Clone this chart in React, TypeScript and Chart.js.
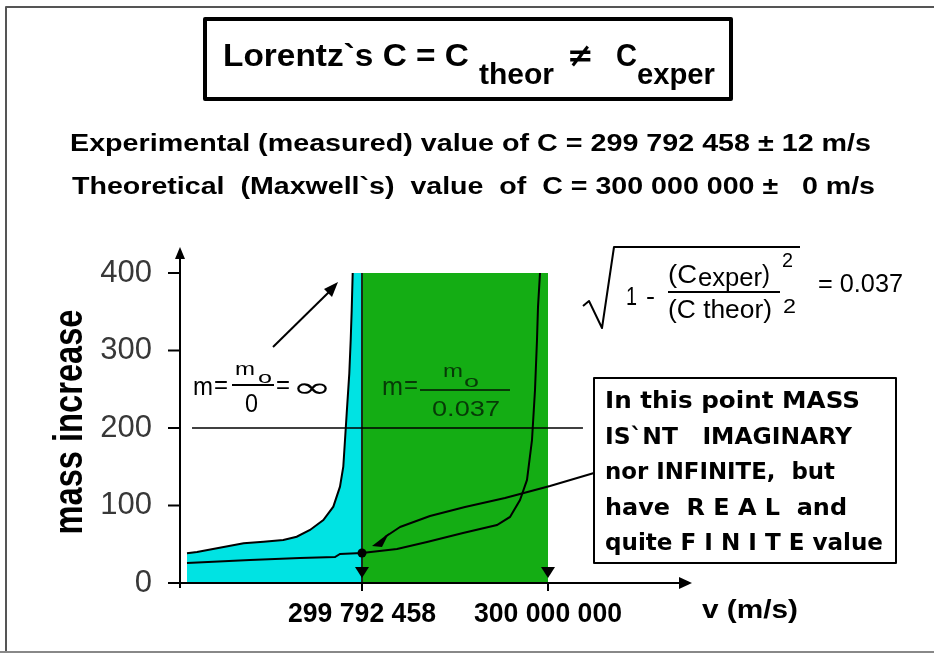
import React, { useEffect, useRef } from 'react';
import { Chart, registerables } from 'chart.js';

Chart.register(...registerables);

// ---------- data ----------
const C_EXPER = 299792458;
const C_THEOR = 300000000;

const xTickValues = [C_EXPER, C_THEOR];
const xTickLabels = ['299 792 458', '300 000 000'];
const yTickValues = [0, 100, 200, 300, 400];
const yTickLabels = ['0', '100', '200', '300', '400'];

// curve m = m0 / 0 (goes to infinity before C_exper)
const upperX = [299597200, 299608350, 299660350, 299682670, 299704630, 299719580, 299734420, 299749300, 299760460, 299767900, 299771580, 299773490, 299775390, 299778290, 299779850, 299780960, 299782080];
const upperY = [38.3, 40, 51.2, 53.3, 55.5, 59.7, 68.4, 81.3, 98.5, 124.3, 150, 184.5, 219, 270.5, 313.5, 352, 400];

// curve m = m0 / 0.037 (goes to infinity near C_theor)
const lowerX = [299597190, 299667490, 299723280, 299762330, 299767910, 299792458, 299831510, 299864990, 299905150, 299943090, 299957600, 299968760, 299976570, 299982150, 299985500, 299987720, 299988840, 299991070];
const lowerY = [25.8, 29.7, 32.3, 33.5, 37.4, 38.7, 43.9, 52.9, 64.5, 74.8, 85.2, 107, 133, 184.5, 249, 313.5, 356, 400];

// green band between C_exper and C_theor
const greenX = [C_EXPER, C_THEOR];
const greenY = [400, 400];

// horizontal reference line
const refX = [299602800, 300039000];
const refY = [200, 200];

// marked point
const pointX = [C_EXPER];
const pointY = [38.7];

// vertical marker at C_exper
const vertX = [C_EXPER, C_EXPER];
const vertY = [0, 400];

const X_MIN = 299589380;
const X_MAX = 300158450;

const zip = (xs: number[], ys: number[]) => xs.map((x, i) => ({ x, y: ys[i] }));

const NARROW = '"Liberation Sans Narrow", "Liberation Sans", Arial, sans-serif';
const SANS = '"Liberation Sans", Arial, sans-serif';
const WIDE = '"DejaVu Sans", Verdana, sans-serif';

function fitText(ctx: CanvasRenderingContext2D, text: string, x: number, y: number, font: string, width: number, align: CanvasTextAlign = 'left', color = '#000') {
  ctx.save();
  ctx.font = font;
  ctx.fillStyle = color;
  ctx.textBaseline = 'alphabetic';
  ctx.textAlign = align;
  const w = ctx.measureText(text).width || 1;
  ctx.translate(x, y);
  ctx.scale(width / w, 1);
  ctx.fillText(text, 0, 0);
  ctx.restore();
}

function tri(ctx: CanvasRenderingContext2D, pts: number[][], color = '#000') {
  ctx.beginPath();
  ctx.moveTo(pts[0][0], pts[0][1]);
  for (let i = 1; i < pts.length; i++) ctx.lineTo(pts[i][0], pts[i][1]);
  ctx.closePath();
  ctx.fillStyle = color;
  ctx.fill();
}

function poly(ctx: CanvasRenderingContext2D, pts: number[][], lw = 2, color = '#000') {
  ctx.beginPath();
  ctx.moveTo(pts[0][0], pts[0][1]);
  for (let i = 1; i < pts.length; i++) ctx.lineTo(pts[i][0], pts[i][1]);
  ctx.lineWidth = lw;
  ctx.strokeStyle = color;
  ctx.lineJoin = 'round';
  ctx.stroke();
}

const annotations = {
  id: 'annotations',
  beforeDraw(chart: any) {
    const ctx = chart.ctx;
    ctx.save();
    ctx.fillStyle = '#fff';
    ctx.fillRect(0, 0, chart.width, chart.height);
    ctx.restore();
  },
  afterDraw(chart: any) {
    const ctx: CanvasRenderingContext2D = chart.ctx;
    const xs = chart.scales.x;
    const ys = chart.scales.y;
    const X = (v: number) => xs.getPixelForValue(v);
    const Y = (v: number) => ys.getPixelForValue(v);
    const a = chart.chartArea;
    ctx.save();

    // outer frame
    poly(ctx, [[6, 652], [6, 7], [934, 7]], 2, '#555');
    poly(ctx, [[0, 652], [934, 652]], 2, '#888');

    // title box
    ctx.lineWidth = 4;
    ctx.strokeStyle = '#000';
    ctx.strokeRect(205, 19, 526, 80);
    fitText(ctx, 'Lorentz`s C = C', 223, 66, `bold 32px ${NARROW}`, 246);
    fitText(ctx, 'theor', 479, 84, `bold 30px ${NARROW}`, 75);
    fitText(ctx, '\u2260', 567, 66, `bold 32px ${WIDE}`, 27);
    fitText(ctx, 'C', 616, 66, `bold 32px ${NARROW}`, 21);
    fitText(ctx, 'exper', 637, 84, `bold 30px ${NARROW}`, 78);

    // statement lines
    fitText(ctx, 'Experimental (measured) value of C = 299 792 458 \u00b1 12 m/s', 70, 151, `bold 23px ${NARROW}`, 801);
    fitText(ctx, 'Theoretical  (Maxwell`s)  value  of  C = 300 000 000 \u00b1   0 m/s', 72, 194, `bold 23px ${NARROW}`, 803);

    // ---- axes ----
    const x0 = a.left;
    const yb = a.bottom;
    // y axis
    poly(ctx, [[x0, yb + 5], [x0, 257]], 2);
    tri(ctx, [[x0, 247], [x0 - 5, 259], [x0 + 5, 259]]);
    yTickValues.forEach((v, i) => {
      const py = Y(v);
      poly(ctx, [[x0 - 12, py], [x0, py]], 2);
      ctx.fillStyle = '#383838';
      ctx.font = `31px ${SANS}`;
      ctx.textAlign = 'right';
      ctx.textBaseline = 'middle';
      ctx.fillText(yTickLabels[i], x0 - 28, py);
    });
    // x axis
    poly(ctx, [[x0 - 12, yb], [a.right - 8, yb]], 2);
    tri(ctx, [[a.right + 2, yb], [a.right - 11, yb - 6], [a.right - 11, yb + 6]]);
    xTickValues.forEach((v, i) => {
      const px = X(v);
      poly(ctx, [[px, yb], [px, yb + 8]], 2);
      tri(ctx, [[px, yb - 5], [px - 7, yb - 16], [px + 7, yb - 16]]);
      fitText(ctx, xTickLabels[i], px, 622, `bold 27px ${SANS}`, 148, 'center');
    });
    fitText(ctx, 'v (m/s)', 702, 618, `bold 26px ${SANS}`, 96);

    // y axis title (rotated)
    ctx.save();
    ctx.translate(82, 422);
    ctx.rotate(-Math.PI / 2);
    fitText(ctx, 'mass increase', 0, 0, `bold 40px ${NARROW}`, 225, 'center');
    ctx.restore();

    // ---- label m = m0/0 = inf ----
    fitText(ctx, 'm', 193, 395, `25px ${SANS}`, 20);
    fitText(ctx, '=', 214, 393, `25px ${SANS}`, 14);
    fitText(ctx, 'm', 235, 375, `19px ${SANS}`, 20);
    fitText(ctx, 'o', 258, 383, `16px ${SANS}`, 14);
    poly(ctx, [[232, 385], [274, 385]], 2);
    fitText(ctx, '0', 245, 412, `26px ${SANS}`, 13);
    fitText(ctx, '=', 276, 393, `25px ${SANS}`, 14);
    fitText(ctx, '\u221e', 292, 397, `28px ${WIDE}`, 40);
    // arrow to infinity
    poly(ctx, [[273, 347], [330, 291]], 2);
    tri(ctx, [[338, 282], [324, 289], [332, 297]]);

    // ---- label m = m0/0.037 ----
    const dk = '#073a07';
    fitText(ctx, 'm', 382, 395, `25px ${SANS}`, 21, 'left', dk);
    fitText(ctx, '=', 404, 393, `25px ${SANS}`, 14, 'left', dk);
    fitText(ctx, 'm', 443, 377, `19px ${SANS}`, 20, 'left', dk);
    fitText(ctx, 'o', 464, 387, `16px ${SANS}`, 15, 'left', dk);
    poly(ctx, [[420, 390], [510, 390]], 2, dk);
    fitText(ctx, '0.037', 432, 416, `22px ${SANS}`, 68, 'left', dk);

    // ---- formula ----
    poly(ctx, [[583, 306], [589, 301], [602, 328], [614, 247], [800, 247]], 2);
    fitText(ctx, '1', 626, 305, `25px ${SANS}`, 11);
    fitText(ctx, '-', 646, 305, `25px ${SANS}`, 9);
    fitText(ctx, '(C', 668, 283, `26px ${SANS}`, 29);
    fitText(ctx, 'exper', 698, 286, `26px ${SANS}`, 64);
    fitText(ctx, ')', 762, 283, `26px ${SANS}`, 8);
    fitText(ctx, '2', 782, 267, `20px ${SANS}`, 11);
    poly(ctx, [[668, 292], [780, 292]], 2);
    fitText(ctx, '(C theor)', 668, 318, `25px ${SANS}`, 104);
    fitText(ctx, '2', 783, 313, `20px ${SANS}`, 13);
    fitText(ctx, '= 0.037', 818, 292, `26px ${SANS}`, 85);

    // ---- explanation box ----
    ctx.lineWidth = 2;
    ctx.strokeStyle = '#000';
    ctx.strokeRect(594, 378, 302, 185);
    const boxLines = ['In this point MASS', 'IS`NT   IMAGINARY', 'nor INFINITE,  but', 'have  R E A L  and', 'quite F I N I T E value'];
    const boxWidths = [255, 247, 230, 242, 278];
    boxLines.forEach((t, i) => {
      fitText(ctx, t, 605, 408 + i * 35.5, `bold 23px ${WIDE}`, boxWidths[i]);
    });
    // arrow from box to the point
    const dpx = X(pointX[0]);
    const dpy = Y(pointY[0]);
    poly(ctx, [[594, 473], [550, 486], [505, 498], [465, 507], [430, 516], [400, 527], [385, 537]], 2);
    tri(ctx, [[dpx + 10, dpy - 7], [dpx + 27, dpy - 20], [dpx + 20, dpy - 6]]);

    ctx.restore();
  },
};

export default function App() {
  const ref = useRef<HTMLCanvasElement | null>(null);
  useEffect(() => {
    if (!ref.current) return;
    const cyanData = zip([...upperX, C_EXPER], [...upperY, 400]);
    const chart = new Chart(ref.current, {
      type: 'line',
      data: {
        datasets: [
          { label: 'point', data: zip(pointX, pointY), showLine: false, pointRadius: 4.5, pointBackgroundColor: '#000', pointBorderWidth: 0, order: 0 },
          { label: 'm0/0', data: zip(upperX, upperY), borderColor: '#000', borderWidth: 2, pointRadius: 0, fill: false, tension: 0, order: 1 },
          { label: 'm0/0.037', data: zip(lowerX, lowerY), borderColor: '#000', borderWidth: 2, pointRadius: 0, fill: false, tension: 0, order: 1 },
          { label: 'ref', data: zip(refX, refY), borderColor: '#000', borderWidth: 1.6, pointRadius: 0, fill: false, order: 2 },
          { label: 'vert', data: zip(vertX, vertY), borderColor: '#1a2a1a', borderWidth: 2, pointRadius: 0, fill: false, order: 2 },
          { label: 'cyan', data: cyanData, borderWidth: 0, borderColor: 'rgba(0,0,0,0)', backgroundColor: '#00e3e3', pointRadius: 0, fill: 'origin', order: 10 },
          { label: 'green', data: zip(greenX, greenY), borderWidth: 0, borderColor: 'rgba(0,0,0,0)', backgroundColor: '#14ad14', pointRadius: 0, fill: 'origin', order: 11 },
        ],
      },
      options: {
        animation: false,
        responsive: false,
        maintainAspectRatio: false,
        events: [],
        layout: { padding: { left: 180, right: 244, top: 273, bottom: 71 } },
        plugins: { legend: { display: false }, tooltip: { enabled: false }, title: { display: false } },
        scales: {
          x: { type: 'linear', display: false, min: X_MIN, max: X_MAX },
          y: { type: 'linear', display: false, min: 0, max: 400 },
        },
      },
      plugins: [annotations],
    });
    return () => chart.destroy();
  }, []);
  return (
    <div style={{ position: 'absolute', left: 0, top: 0, width: 934, height: 654, background: '#fff' }}>
      <canvas ref={ref} width={934} height={654} style={{ width: 934, height: 654, display: 'block' }} />
    </div>
  );
}
